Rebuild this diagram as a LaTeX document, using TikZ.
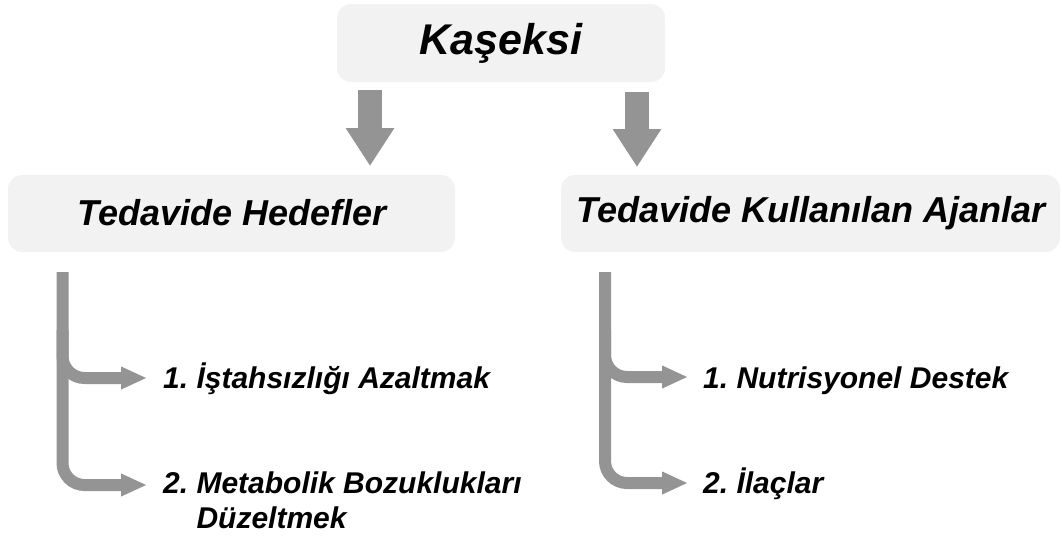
\documentclass[tikz,border=0pt]{standalone}
\usepackage{fontspec}
\setmainfont{Liberation Sans}
\usetikzlibrary{arrows.meta}
\definecolor{boxgray}{RGB}{242,242,242}
\definecolor{arrgray}{RGB}{148,148,148}
\frenchspacing
\begin{document}
\begin{tikzpicture}[x=1pt,y=-1pt,
  box/.style={fill=boxgray,rounded corners=14pt,draw=none},
  bigarrow/.style={draw=arrgray,line width=24pt,-{Triangle[width=46pt,length=38pt]}},
  bracket/.style={draw=arrgray,line width=12pt,rounded corners=22pt,-{Triangle[width=21pt,length=26pt]}},
  itemtext/.style={anchor=base west,inner sep=0pt,align=left,font=\fontsize{30}{35}\selectfont\bfseries\itshape},
  headtext/.style={font=\fontsize{36}{42}\selectfont\bfseries\itshape}
]
\useasboundingbox (0,0) rectangle (1062,539);
% boxes
\path[box] (337,4) rectangle (665,82);
\node[font=\fontsize{43}{50}\selectfont\bfseries\itshape] (kas) at (501,43) {Kaşeksi};
\path[box] (8,175) rectangle (455,252);
\node[headtext] (hed) at (232,213) {Tedavide Hedefler};
\path[box] (561,175) rectangle (1060,252);
\node[headtext] (aja) at (811,213) {Tedavide Kullanılan Ajanlar};
% big arrows
\coordinate (a1s) at (370,90);
\coordinate (a1e) at (370,166);
\coordinate (a2s) at (637,92);
\coordinate (a2e) at (637,167);
\draw[bigarrow] (a1s) -- (a1e);
\draw[bigarrow] (a2s) -- (a2e);
% items
\node[itemtext] (l1) at (163,388) {1. İştahsızlığı Azaltmak};
\node[itemtext] (l2) at (163,528) {2. Metabolik Bozuklukları\\\phantom{2. }Düzeltmek};
\node[itemtext] (r1) at (703,388) {1. Nutrisyonel Destek};
\node[itemtext] (r2) at (703,493) {2. İlaçlar};
% brackets
\coordinate (lt) at (62.5,272);
\coordinate (lb) at (62.5,330);
\coordinate (l1t) at (147,378);
\coordinate (l2t) at (147,485);
\draw[bracket] (lt) |- (l2t);
\draw[bracket] (lb) |- (l1t);
\coordinate (rt) at (605,272);
\coordinate (rb) at (605,330);
\coordinate (r1t) at (688,377);
\coordinate (r2t) at (688,483);
\draw[bracket] (rt) |- (r2t);
\draw[bracket] (rb) |- (r1t);
\end{tikzpicture}
\end{document}
